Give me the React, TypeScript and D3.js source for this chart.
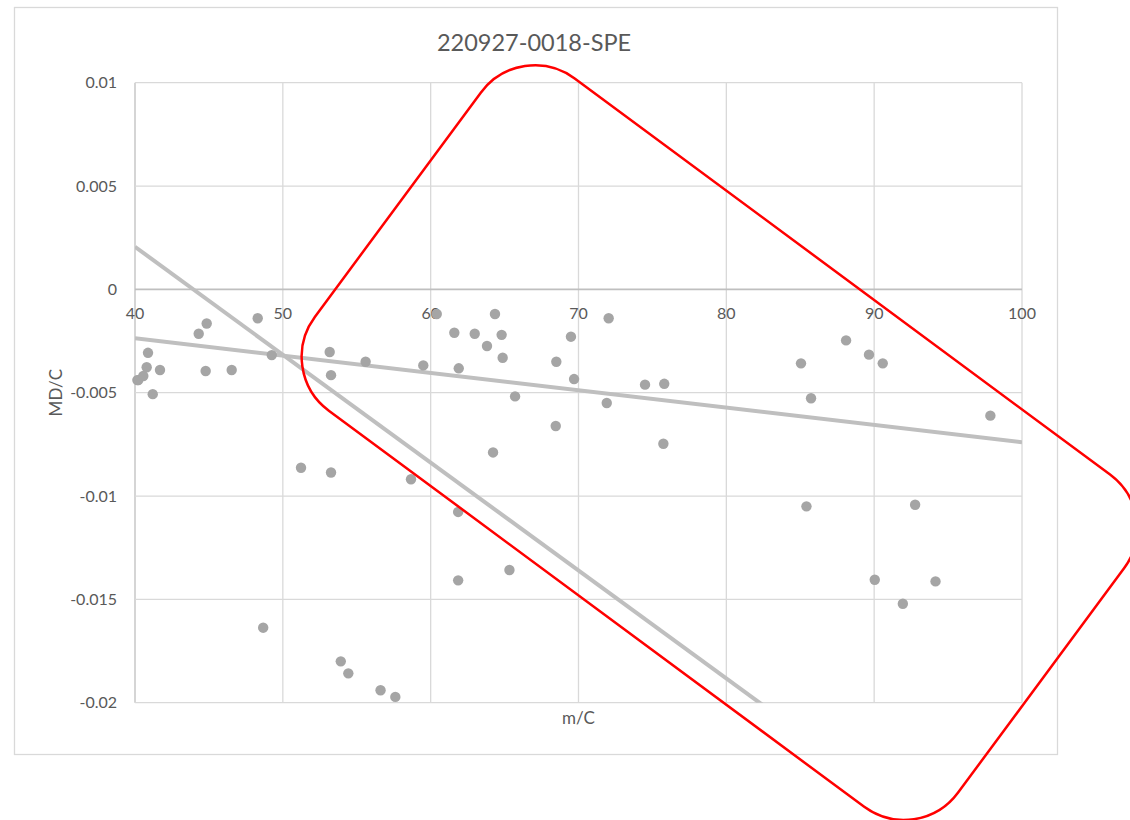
import React from 'react';
import * as d3 from 'd3';

const mcValues = [
  40.16, 40.22, 40.56, 40.79, 40.88, 41.2, 41.69, 44.31, 44.85, 44.78, 46.54, 48.3, 49.25,
  53.17, 53.26, 55.6, 51.23, 53.26, 58.67, 48.67, 53.92, 54.43, 56.61, 57.61,
  59.5, 60.41, 61.6, 61.9, 62.98, 63.81, 64.35, 64.8, 64.87, 65.71, 68.5, 69.49, 69.7,
  72.04, 71.91, 68.46, 64.22, 74.5, 75.8, 75.74, 61.86, 61.86, 65.33,
  85.05, 85.73, 88.1, 89.65, 90.58, 97.86, 85.42, 92.77, 90.04, 94.15, 91.94,
];
const mdValues = [
  -0.00439, -0.00439, -0.00419, -0.00377, -0.00307, -0.00507, -0.0039, -0.00215, -0.00165, -0.00395, -0.0039, -0.0014, -0.00318,
  -0.00303, -0.00415, -0.0035, -0.00863, -0.00886, -0.00919, -0.01637, -0.018, -0.01858, -0.0194, -0.01972,
  -0.00368, -0.00119, -0.0021, -0.00382, -0.00215, -0.00274, -0.00119, -0.0022, -0.00331, -0.00518, -0.0035, -0.00229, -0.00434,
  -0.0014, -0.0055, -0.00661, -0.00789, -0.00461, -0.00457, -0.00747, -0.01077, -0.01408, -0.01358,
  -0.00358, -0.00527, -0.00247, -0.00316, -0.00358, -0.00611, -0.0105, -0.01042, -0.01405, -0.01413, -0.01521,
];
const xTicks = [40, 50, 60, 70, 80, 90, 100];
const yTicks = [0.01, 0.005, 0, -0.005, -0.01, -0.015, -0.02];
const yTickLabels = ['0.01', '0.005', '0', '-0.005', '-0.01', '-0.015', '-0.02'];
const trendX = [40, 100];
const trendShallowY = [-0.00237, -0.0074];
const trendSteepY = [0.00206, -0.02927];

const FONT = 'Lato, "Open Sans", sans-serif';
const TEXT = '#595959';

export default function App() {
  const W = 1130;
  const H = 820;
  const x = d3.scaleLinear().domain([40, 100]).range([135, 1022]);
  const y = d3.scaleLinear().domain([-0.02, 0.01]).range([702.7, 82.7]);
  const line = d3
    .line<[number, number]>()
    .x((d) => x(d[0]))
    .y((d) => y(d[1]));
  const shallow = line(trendX.map((v, i) => [v, trendShallowY[i]] as [number, number]));
  const steep = line(trendX.map((v, i) => [v, trendSteepY[i]] as [number, number]));
  const [x0, x1] = x.range();
  const [y0, y1] = y.range();

  return (
    <svg
      width={W}
      height={H}
      style={{ position: 'absolute', left: 0, top: 0, background: '#fff' }}
    >
      <rect x={0} y={0} width={W} height={H} fill="#fff" />
      <rect x={14.5} y={7.5} width={1043} height={747} fill="#fff" stroke="#d9d9d9" strokeWidth={1.3} />
      <defs>
        <clipPath id="plotClip">
          <rect x={x0} y={y1} width={x1 - x0} height={y0 - y1} />
        </clipPath>
      </defs>
      {xTicks.map((t) => (
        <line key={'gx' + t} x1={x(t)} x2={x(t)} y1={y(0.01)} y2={y(-0.02)} stroke={t === 40 ? '#bfbfbf' : '#d9d9d9'} strokeWidth={1.3} />
      ))}
      {yTicks.map((t) => (
        <line key={'gy' + t} x1={x(40)} x2={x(100)} y1={y(t)} y2={y(t)} stroke={t === 0 ? '#bfbfbf' : '#d9d9d9'} strokeWidth={t === 0 ? 1.6 : 1.3} />
      ))}
      {yTicks.map((t, i) => (
        <text key={'ly' + t} x={117} y={y(t)} dy="0.35em" textAnchor="end" fontFamily={FONT} fontSize={16} fill={TEXT}>
          {yTickLabels[i]}
        </text>
      ))}
      {xTicks.map((t) => (
        <text key={'lx' + t} x={x(t)} y={318.5} textAnchor="middle" fontFamily={FONT} fontSize={16} fill={TEXT}>
          {t}
        </text>
      ))}
      <g clipPath="url(#plotClip)">
        <path d={shallow || ''} stroke="#bfbfbf" strokeWidth={4} fill="none" />
        <path d={steep || ''} stroke="#bfbfbf" strokeWidth={4} fill="none" />
      </g>
      {mcValues.map((v, i) => (
        <circle key={'p' + i} cx={x(v)} cy={y(mdValues[i])} r={5.2} fill="#a5a5a5" />
      ))}
      <text x={534} y={50.5} textAnchor="middle" fontFamily={FONT} fontSize={23.5} fill={TEXT}>
        220927-0018-SPE
      </text>
      <text x={(x0 + x1) / 2} y={724} textAnchor="middle" fontFamily={FONT} fontSize={17} fill={TEXT}>
        m/C
      </text>
      <text
        transform={`translate(62, ${(y0 + y1) / 2}) rotate(-90)`}
        textAnchor="middle"
        fontFamily={FONT}
        fontSize={17}
        fill={TEXT}
      >
        MD/C
      </text>
      <rect
        transform="rotate(36.5)"
        x={441.6}
        y={-278.8}
        width={800}
        height={413.3}
        rx={67}
        ry={67}
        fill="none"
        stroke="#ff0000"
        strokeWidth={2.5}
      />
    </svg>
  );
}
